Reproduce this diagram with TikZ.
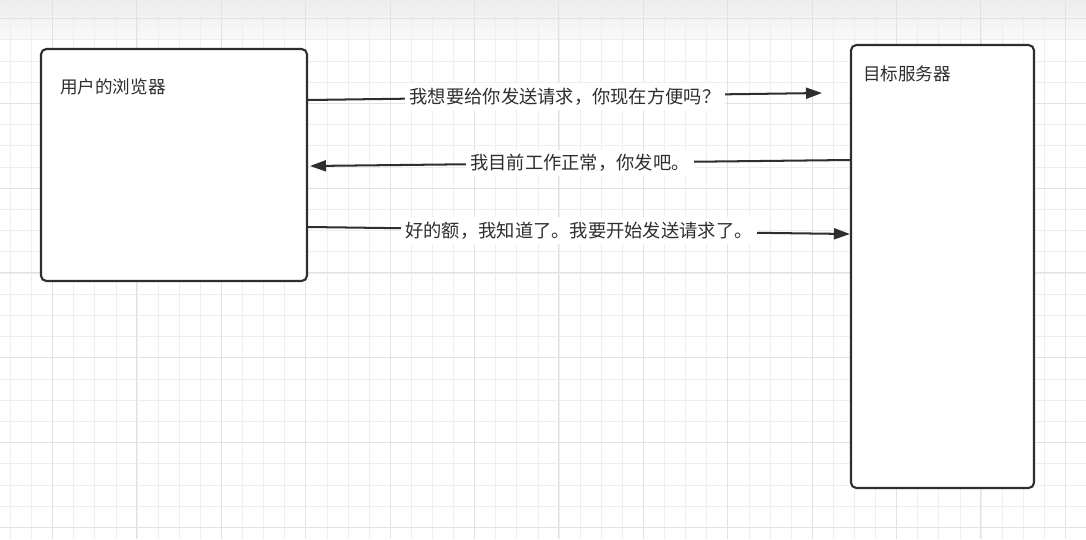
\documentclass[tikz,border=0pt]{standalone}
\usepackage{fontspec}
\usepackage{xcolor}
\usetikzlibrary{arrows.meta}
\newfontfamily\cjk{Noto Sans CJK SC}
\definecolor{ink}{HTML}{2E2E2E}
\definecolor{gridminor}{HTML}{EEEEEE}
\definecolor{gridmajor}{HTML}{E2E2E2}

\begin{document}
\begin{tikzpicture}[x=0.02cm, y=-0.02cm, >={Triangle[length=0.32cm, width=0.22cm]},
    box/.style={draw=ink, line width=1.2pt, rounded corners=3pt, fill=white},
    title/.style={anchor=west, text=ink, font=\cjk\fontsize{10}{12}\selectfont},
    msg/.style={->, draw=ink, line width=1.15pt},
    lbl/.style={fill=white, inner sep=2.5pt, text=ink, font=\cjk\fontsize{10.4}{12}\selectfont},
    gline/.style={line width=0.02cm}]
    \useasboundingbox (0,0) rectangle (1086,539);
    % 背景网格
    \fill[white] (0,0) rectangle (1086,539);
    \shade[top color=gray!14, bottom color=gray!5] (0,0) rectangle (1086,38);
    \foreach \i in {0,...,51} {
        \pgfmathsetmacro{\gx}{round(10+21.1*\i)+0.5}
        \draw[gline, gridminor] (\gx,0) -- (\gx,539);
    }
    \foreach \j in {0,...,25} {
        \pgfmathsetmacro{\gy}{round(-3+21.2*\j)+0.5}
        \draw[gline, gridminor] (0,\gy) -- (1086,\gy);
    }
    \foreach \i in {0,...,12} {
        \pgfmathsetmacro{\gx}{round(52+84.4*\i)+0.5}
        \draw[gline, gridmajor] (\gx,0) -- (\gx,539);
    }
    \foreach \j in {0,...,6} {
        \pgfmathsetmacro{\gy}{round(18+84.8*\j)+0.5}
        \draw[gline, gridmajor] (0,\gy) -- (1086,\gy);
    }

    % 两个方框
    \node[box, minimum width=5.32cm, minimum height=4.64cm] (browser) at (174,165) {};
    \node[box, minimum width=3.66cm, minimum height=8.86cm] (server) at (942.5,266.5) {};
    \node[title] (browsertxt) at (54,87) {用户的浏览器};
    \node[title] (servertxt) at (857,74) {目标服务器};

    % 箭头 + 标注
    \coordinate (askend) at (822,93);
    \coordinate (okend) at (310,166);
    \draw[msg] (browser.east |- 0,100) -- (askend)
        node[midway, lbl] {我想要给你发送请求，你现在方便吗？};
    \draw[msg] (server.west |- 0,160) -- (okend)
        node[midway, lbl] {我目前工作正常，你发吧。};
    \draw[msg] (browser.east |- 0,227) -- (server.west |- 0,234)
        node[midway, lbl] {好的额，我知道了。我要开始发送请求了。};
\end{tikzpicture}
\end{document}
